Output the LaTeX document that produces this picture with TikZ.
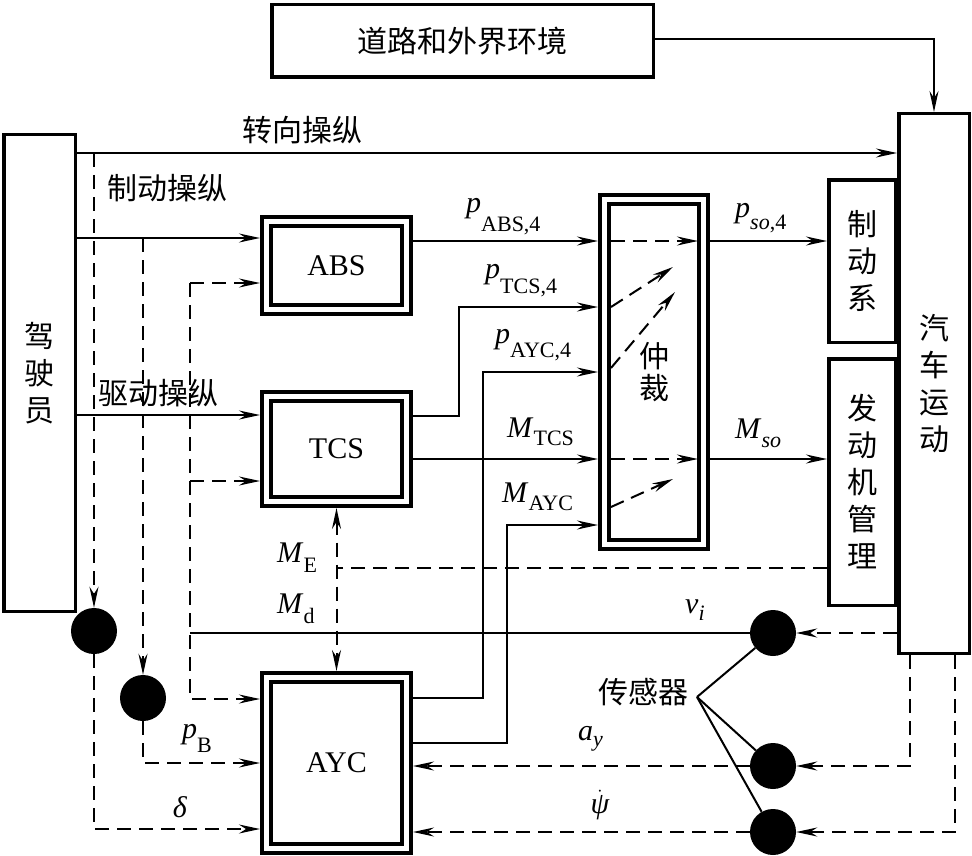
\documentclass[tikz,border=0pt]{standalone}
\usepackage{fontspec}
\setmainfont{Liberation Serif}
\newfontfamily\cjk{Noto Sans CJK SC}
\usetikzlibrary{arrows.meta}
\newcommand\sy[3]{#1\raisebox{-#3pt}{\fontsize{22}{22}\selectfont #2}}
\begin{document}
\begin{tikzpicture}[x=1pt,y=-1pt,
  >={Stealth[length=21pt,width=9pt,inset=7pt]},
  conn/.style={line width=2pt},
  dline/.style={conn,dash pattern=on 14pt off 8pt},
  sbox/.style={draw,line width=3.5pt,inner sep=0pt},
  dbox/.style={draw,line width=4pt,double,double distance=5pt,outer sep=6.5pt,inner sep=0pt,font=\fontsize{30}{30}\selectfont},
  cn/.style={font=\cjk\fontsize{30}{37}\selectfont,align=center},
  lab/.style={font=\fontsize{30}{30}\selectfont,inner sep=0pt},
  sensor/.style={circle,fill=black,minimum size=46pt,inner sep=0pt},
]
\useasboundingbox (0,0) rectangle (972,856);

% blocks
\node[sbox,minimum width=381.5pt,minimum height=72.5pt,cn] (road) at (462.5,41) {道路和外界环境};
\node[sbox,minimum width=70.5pt,minimum height=539.5pt,cn] (car) at (934,383.5) {汽\\车\\运\\动};
\node[sbox,minimum width=71.5pt,minimum height=476.5pt,cn] (drv) at (39.5,373) {驾\\驶\\员};
\node[sbox,minimum width=66.5pt,minimum height=162.5pt,cn] (brake) at (862,261) {制\\动\\系};
\node[sbox,minimum width=66.5pt,minimum height=246.5pt,cn] (eng) at (862,482) {发\\动\\机\\管\\理};
\node[dbox,minimum width=140pt,minimum height=88pt] (abs) at (336.5,265.5) {ABS};
\node[dbox,minimum width=140pt,minimum height=105pt] (tcs) at (336.5,449) {TCS};
\node[dbox,minimum width=140pt,minimum height=171pt] (ayc) at (336.5,763) {AYC};
\node[dbox,minimum width=99pt,minimum height=345pt,cn,font=\cjk\fontsize{30}{32}\selectfont] (arb) at (654,372) {仲\\裁};

% sensors
\node[sensor] (c1) at (94,631) {};
\node[sensor] (c2) at (143,698) {};
\node[sensor] (c3) at (773,633) {};
\node[sensor] (c4) at (773,766) {};
\node[sensor] (c5) at (773,832) {};

% helper coordinates
\coordinate (s1) at (94,153);
\coordinate (s2) at (143,238);
\coordinate (d1) at (190,283);
\coordinate (d2) at (190,481);
\coordinate (d3) at (190,633);
\coordinate (me) at (336.5,568);
\coordinate (sp) at (697,697);
\coordinate (i1a) at (611,241); \coordinate (i1b) at (698,241);
\coordinate (i2a) at (611,459); \coordinate (i2b) at (698,459);
\coordinate (i3a) at (611,307); \coordinate (i3b) at (673,267);
\coordinate (i4a) at (611,368); \coordinate (i4b) at (675,292);
\coordinate (i5a) at (611,507); \coordinate (i5b) at (673,479);

% driver inputs
\draw[conn,->] (drv.east |- s1) -- (car.west |- s1);
\draw[conn,->] (road.east |- 0,39) -| (car.north);
\draw[conn,->] (drv.east |- s2) -- (abs.west |- s2);
\draw[conn,->] (drv.east |- 0,415) -- (tcs.west |- 0,415);
\draw[dline,->] (s1) -- (c1);
\draw[dline,->] (s2) -- (c2);
\draw[dline,->] (d1) -- (abs.west |- d1);
\draw[dline,->] (d2) -- (tcs.west |- d2);
\draw[dline,->] (d1) |- (ayc.west |- 0,699);
\draw[dline,->] (c2) |- (ayc.west |- 0,763);
\draw[dline,->] (c1) |- (ayc.west |- 0,829);

% sensor signals
\draw[conn] (d3) -- (c3);
\draw[dline,->] (car.west |- c3) -- (c3);
\draw[dline,->] (car.south -| 910,0) |- (c4);
\draw[dline,->] (car.south -| 955,0) |- (c5);
\draw[dline,->] (c4) -- (ayc.east |- c4);
\draw[dline,->] (c5) -- (ayc.east |- c5);
\draw[conn] (sp) -- (c3);
\draw[conn] (sp) -- (c4);
\draw[conn] (sp) -- (c5);

% controller outputs
\draw[conn,->] (abs.east |- 0,241) -- (arb.west |- 0,241);
\draw[conn,->] (tcs.east |- 0,416) -- ++(46,0) |- (arb.west |- 0,307);
\draw[conn,->] (tcs.east |- 0,459) -- (arb.west |- 0,459);
\draw[conn,->] (ayc.east |- 0,698) -- ++(70,0) |- (arb.west |- 0,372);
\draw[conn,->] (ayc.east |- 0,743) -- ++(94,0) |- (arb.west |- 0,525);
\draw[conn,->] (arb.east |- 0,241) -- (brake.west |- 0,241);
\draw[conn,->] (arb.east |- 0,459) -- (eng.west |- 0,459);
\draw[dline] (eng.west |- me) -- (me);
\draw[dline,<->] (tcs.south) -- (ayc.north);

% inside arbitration
\draw[dline,->] (i1a) -- (i1b);
\draw[dline,->] (i2a) -- (i2b);
\draw[dline,->] (i3a) -- (i3b);
\draw[dline,->] (i4a) -- (i4b);
\draw[dline,->] (i5a) -- (i5b);

% labels
\node[cn] (t1) at (302,130) {转向操纵};
\node[cn] (t2) at (167,188) {制动操纵};
\node[cn] (t3) at (158,393) {驱动操纵};
\node[cn] (t4) at (643,692) {传感器};
\node[lab,anchor=base west] (l1) at (466,212) {\sy{\textit{p}}{ABS,4}{19}};
\node[lab,anchor=base west] (l2) at (485,278) {\sy{\textit{p}}{TCS,4}{15}};
\node[lab,anchor=base west] (l3) at (495,343) {\sy{\textit{p}}{AYC,4}{14}};
\node[lab,anchor=base west] (l4) at (507,437) {\sy{\textit{M}}{TCS}{8}};
\node[lab,anchor=base west] (l5) at (502,502) {\sy{\textit{M}}{AYC}{8}};
\node[lab,anchor=base west] (l6) at (735,217) {\sy{\textit{p}}{\textit{so},4}{13}};
\node[lab,anchor=base west] (l7) at (735,438) {\sy{\textit{M}}{\textit{so}}{9}};
\node[lab,anchor=base west] (l8) at (685,613) {\sy{\textit{v}}{\textit{i}}{7}};
\node[lab,anchor=base west] (l9) at (578,740) {\sy{\textit{a}}{\textit{y}}{6}};
\node[lab] (l10) at (600,805) {$\dot{\hbox{\itshape ψ}}$};
\node[lab] (l11) at (180,807) {\textit{δ}};
\node[lab,anchor=base west] (l12) at (182,738) {\sy{\textit{p}}{B}{14}};
\node[lab,anchor=base west] (l13) at (277,562) {\sy{\textit{M}}{E}{10}};
\node[lab,anchor=base west] (l14) at (277,613) {\sy{\textit{M}}{d}{10}};
\end{tikzpicture}
\end{document}
